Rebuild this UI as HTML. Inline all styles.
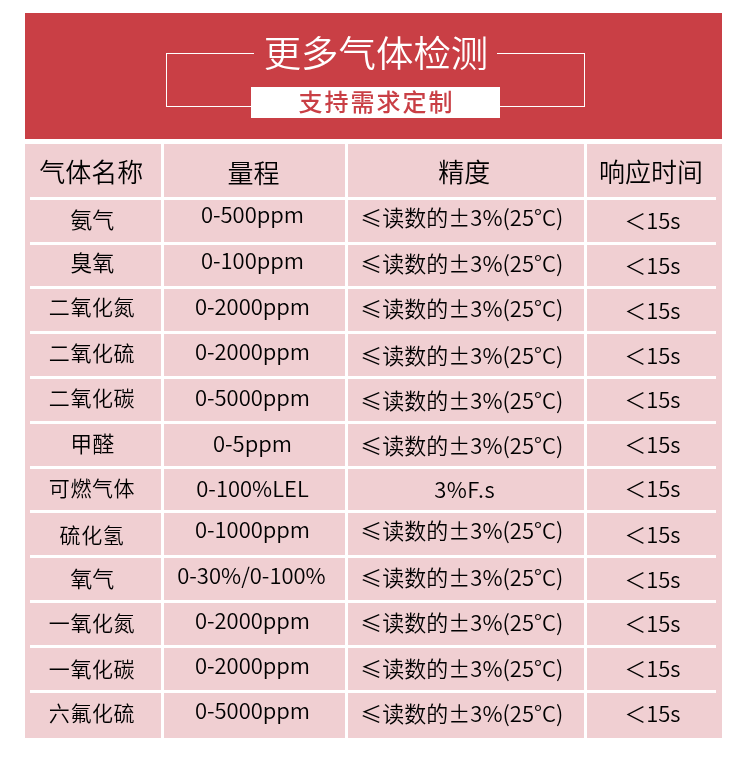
<!DOCTYPE html>
<html><head><meta charset="utf-8"><style>
*{margin:0;padding:0;box-sizing:border-box}
html,body{width:750px;height:763px;background:#fff;overflow:hidden}
#tl{position:absolute;left:0;top:0;width:750px;height:763px;will-change:transform}
body{position:relative;font-family:"Liberation Sans","Noto Sans CJK SC",sans-serif}
.a{position:absolute}
#red{left:25px;top:13px;width:697px;height:126px;background:#C93F45}
#pink{left:25px;top:144px;width:697px;height:594px;background:#F0CFD2}
.vl{position:absolute;top:144px;width:3px;height:594px;background:#fff}
.hl{position:absolute;left:30px;width:686px;height:3px;background:#fff}
.t{position:absolute;white-space:nowrap;text-align:center;width:300px;color:#000;font-family:"Noto Sans CJK SC","Liberation Sans",sans-serif;font-size:22px;line-height:30px;height:30px;font-weight:350}
.h{font-size:26px;line-height:36px;height:36px}
#title{left:176px;top:26px;width:400px;text-align:center;color:#fff;font-size:36px;font-weight:350;transform:scaleX(1.04);transform-origin:50% 50%;line-height:50px;white-space:nowrap;font-family:"Noto Sans CJK SC","Liberation Sans",sans-serif}
#sub{left:251px;top:87px;width:249px;height:31px;background:#fff}
#subt{left:251px;top:83px;font-weight:500;width:249px;text-align:center;color:#C93F45;font-size:24px;line-height:36px;letter-spacing:2px;white-space:nowrap;font-family:"Noto Sans CJK SC","Liberation Sans",sans-serif;padding-left:2px}
.bl{position:absolute;background:#fff}
</style></head><body>
<div class="a" id="red"></div>
<div class="bl" style="left:166px;top:53px;width:1px;height:54px"></div>
<div class="bl" style="left:166px;top:53px;width:88px;height:1px"></div>
<div class="bl" style="left:166px;top:106px;width:86px;height:1px"></div>
<div class="bl" style="left:497px;top:53px;width:88px;height:1px"></div>
<div class="bl" style="left:584px;top:53px;width:1px;height:54px"></div>
<div class="bl" style="left:499px;top:106px;width:86px;height:1px"></div>
<div class="a" id="sub"></div>
<div class="a" id="pink"></div>
<div class="vl" style="left:161px"></div>
<div class="vl" style="left:345px"></div>
<div class="vl" style="left:584px"></div>
<div class="hl" style="top:197px"></div>
<div class="hl" style="top:242px"></div>
<div class="hl" style="top:286px"></div>
<div class="hl" style="top:331px"></div>
<div class="hl" style="top:376px"></div>
<div class="hl" style="top:421px"></div>
<div class="hl" style="top:466px"></div>
<div class="hl" style="top:510px"></div>
<div class="hl" style="top:555px"></div>
<div class="hl" style="top:600px"></div>
<div class="hl" style="top:645px"></div>
<div class="hl" style="top:690px"></div>
<div id="tl">
<div class="a" id="title">更多气体检测</div>
<div class="a" id="subt">支持需求定制</div>
<div class="t h" style="left:-58.8px;top:153.2px">气体名称</div>
<div class="t h" style="left:103.4px;top:153.5px">量程</div>
<div class="t h" style="left:314.3px;top:152.7px">精度</div>
<div class="t h" style="left:501.1px;top:152.7px">响应时间</div>
<div class="t c1" style="left:-57.7px;top:203.3px;">氨气</div>
<div class="t" style="left:102.5px;top:198.0px;">0-500ppm</div>
<div class="t" style="left:311.8px;top:201.3px;">≤读数的±3%(25°C)</div>
<div class="t" style="left:502.4px;top:204.3px;">＜15s</div>
<div class="t c1" style="left:-57.7px;top:246.2px;">臭氧</div>
<div class="t" style="left:102.5px;top:243.7px;">0-100ppm</div>
<div class="t" style="left:311.8px;top:246.8px;">≤读数的±3%(25°C)</div>
<div class="t" style="left:502.4px;top:248.9px;">＜15s</div>
<div class="t c1" style="left:-58.0px;top:291.2px;font-size:21px;letter-spacing:0.6px;">二氧化氮</div>
<div class="t" style="left:102.5px;top:289.7px;">0-2000ppm</div>
<div class="t" style="left:311.8px;top:292.2px;">≤读数的±3%(25°C)</div>
<div class="t" style="left:502.4px;top:294.0px;">＜15s</div>
<div class="t c1" style="left:-58.0px;top:337.2px;font-size:21px;letter-spacing:0.6px;">二氧化硫</div>
<div class="t" style="left:102.5px;top:335.3px;">0-2000ppm</div>
<div class="t" style="left:311.8px;top:338.6px;">≤读数的±3%(25°C)</div>
<div class="t" style="left:502.4px;top:338.8px;">＜15s</div>
<div class="t c1" style="left:-58.0px;top:381.6px;font-size:21px;letter-spacing:0.6px;">二氧化碳</div>
<div class="t" style="left:102.5px;top:380.6px;">0-5000ppm</div>
<div class="t" style="left:311.8px;top:383.8px;">≤读数的±3%(25°C)</div>
<div class="t" style="left:502.4px;top:383.0px;">＜15s</div>
<div class="t c1" style="left:-57.7px;top:426.9px;">甲醛</div>
<div class="t" style="left:102.5px;top:427.0px;">0-5ppm</div>
<div class="t" style="left:311.8px;top:429.4px;">≤读数的±3%(25°C)</div>
<div class="t" style="left:502.4px;top:428.0px;">＜15s</div>
<div class="t c1" style="left:-58.0px;top:472.4px;font-size:21px;letter-spacing:0.6px;">可燃气体</div>
<div class="t" style="left:102.5px;top:472.0px;">0-100%LEL</div>
<div class="t" style="left:314.7px;top:472.9px;letter-spacing:0.45px;">3%F.s</div>
<div class="t" style="left:502.4px;top:472.4px;">＜15s</div>
<div class="t c1" style="left:-58.0px;top:518.6px;font-size:21px;letter-spacing:0.6px;">硫化氢</div>
<div class="t" style="left:102.5px;top:513.2px;">0-1000ppm</div>
<div class="t" style="left:311.8px;top:513.5px;">≤读数的±3%(25°C)</div>
<div class="t" style="left:502.4px;top:518.0px;">＜15s</div>
<div class="t c1" style="left:-57.7px;top:561.9px;">氧气</div>
<div class="t" style="left:101.5px;top:559.1px;">0-30%/0-100%</div>
<div class="t" style="left:311.8px;top:560.9px;">≤读数的±3%(25°C)</div>
<div class="t" style="left:502.4px;top:563.0px;">＜15s</div>
<div class="t c1" style="left:-58.0px;top:607.3px;font-size:21px;letter-spacing:0.6px;">一氧化氮</div>
<div class="t" style="left:102.5px;top:603.8px;">0-2000ppm</div>
<div class="t" style="left:311.8px;top:606.0px;">≤读数的±3%(25°C)</div>
<div class="t" style="left:502.4px;top:607.3px;">＜15s</div>
<div class="t c1" style="left:-58.0px;top:652.7px;font-size:21px;letter-spacing:0.6px;">一氧化碳</div>
<div class="t" style="left:102.5px;top:649.3px;">0-2000ppm</div>
<div class="t" style="left:311.8px;top:652.0px;">≤读数的±3%(25°C)</div>
<div class="t" style="left:502.4px;top:652.4px;">＜15s</div>
<div class="t c1" style="left:-58.0px;top:697.4px;font-size:21px;letter-spacing:0.6px;">六氟化硫</div>
<div class="t" style="left:102.5px;top:694.2px;">0-5000ppm</div>
<div class="t" style="left:311.8px;top:697.0px;">≤读数的±3%(25°C)</div>
<div class="t" style="left:502.4px;top:696.5px;">＜15s</div>
</div>
</body></html>
